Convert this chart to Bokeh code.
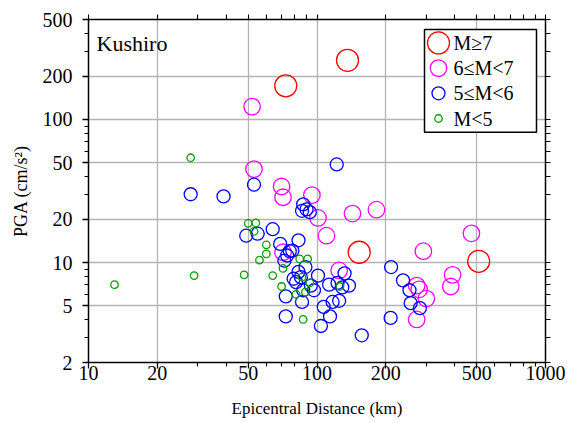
from bokeh.plotting import figure
from bokeh.models import Range1d, LinearScale, LogAxis, FixedTicker
from bokeh.core.properties import value
from bokeh.embed import file_html
from bokeh.resources import INLINE

# ---------------- data ----------------
station = "Kushiro"

m7_dist = [73, 136, 153, 510]
m7_pga = [172, 259, 11.8, 10.2]

m6_dist = [52, 53, 70, 71, 95, 101, 110, 143, 182, 125, 71, 292, 474, 392, 385, 273, 280, 301, 273]
m6_pga = [123, 45, 34, 28.6, 29.6, 20.5, 15.4, 22, 23.4, 8.8, 11.8, 12, 16, 8.2, 6.8, 6.9, 6.5, 5.6, 4.0]

m5_dist = [28, 39, 53, 49, 55, 64, 69, 83, 87, 86, 90, 93, 122, 76, 74, 72, 78, 89, 83, 79, 81,
           85, 87, 97, 101, 94, 73, 86, 73, 104, 107, 113, 123, 132, 138, 129, 125, 117, 114,
           157, 211, 238, 254, 257, 282, 210]
m5_pga = [30, 29, 35, 15.4, 15.9, 17.1, 13.5, 14.3, 25.5, 23, 23.5, 22.5, 48.5, 12.0, 11.2, 10.3,
          12.1, 9.3, 8.6, 7.7, 7.3, 7.9, 6.4, 6.4, 8.1, 6.9, 5.8, 5.3, 4.2, 3.6, 4.9, 7.0, 7.2,
          8.4, 6.9, 6.7, 5.4, 5.3, 4.2, 3.1, 9.3, 7.5, 6.4, 5.2, 4.8, 4.1]

m4_dist = [28, 13, 29, 48, 50, 54, 53, 60, 60, 56, 64, 70, 71, 84, 91, 86, 93, 81, 89, 87, 126]
m4_pga = [54, 7.0, 8.1, 8.2, 18.8, 18.9, 16.5, 13.3, 11.5, 10.4, 8.1, 6.8, 9.1, 10.6, 10.6,
          7.9, 7.2, 6.0, 6.2, 4.0, 6.8]

classes = ["M≥7", "6≤M<7", "5≤M<6", "M<5"]
class_colors = ["#ff0000", "#ff00ff", "#0000ff", "#00a000"]
class_sizes = [22, 16.5, 13, 7.5]
class_data = [(m7_dist, m7_pga), (m6_dist, m6_pga), (m5_dist, m5_pga), (m4_dist, m4_pga)]

x_ticks = [10, 20, 50, 100, 200, 500, 1000]
x_minor = [30, 40, 60, 70, 80, 90, 300, 400, 600, 700, 800, 900]
x_tick_labels = ["10", "20", "50", "100", "200", "500", "1000"]
y_ticks = [2, 5, 10, 20, 50, 100, 200, 500]
y_minor = [3, 4, 6, 7, 8, 9, 30, 40, 60, 70, 80, 90, 300, 400]
y_tick_labels = ["2", "5", "10", "20", "50", "100", "200", "500"]

# ---------------- layout ----------------
W, H = 571, 423
BL, BR, BT, BB = 88, 26, 19, 61
FW, FH = W - BL - BR, H - BT - BB
SERIF = "serif"

p = figure(width=W, height=H, x_axis_type="log", y_axis_type="log",
           x_range=Range1d(10, 1000), y_range=Range1d(2, 500),
           output_backend="svg", toolbar_location=None,
           min_border_left=BL, min_border_right=BR, min_border_top=BT, min_border_bottom=BB)
p.outline_line_color = None
p.background_fill_color = "white"

xt = FixedTicker(ticks=x_ticks, minor_ticks=x_minor)
yt = FixedTicker(ticks=y_ticks, minor_ticks=y_minor)


def style_axis(ax, ticker):
    ax.ticker = ticker
    ax.axis_line_color = "black"
    ax.axis_line_width = 1.5
    ax.major_tick_line_color = "black"
    ax.major_tick_line_width = 1.3
    ax.minor_tick_line_color = "black"
    ax.minor_tick_line_width = 1.1
    ax.major_tick_in = 0
    ax.major_tick_out = 6
    ax.minor_tick_in = 0
    ax.minor_tick_out = 4
    ax.major_label_text_font = SERIF
    ax.major_label_text_font_size = "20px"
    ax.major_label_text_color = "black"
    ax.axis_label_text_font = SERIF
    ax.axis_label_text_font_style = "normal"
    ax.axis_label_text_font_size = "18px"
    ax.axis_label_text_color = "black"


xa = p.xaxis[0]
style_axis(xa, xt)
xa.major_label_overrides = {t: l for t, l in zip(x_ticks, x_tick_labels)}
xa.major_label_standoff = -3
xa.axis_label = "Epicentral Distance (km)"
xa.axis_label_text_font_size = "17px"
xa.axis_label_standoff = 16

ya = p.yaxis[0]
style_axis(ya, yt)
ya.major_label_overrides = {t: l for t, l in zip(y_ticks, y_tick_labels)}
ya.major_label_standoff = 10
ya.axis_label = "PGA (cm/s²)"
ya.axis_label_standoff = 9

# mirrored frame axes (ticks only, no labels)
top = LogAxis(ticker=FixedTicker(ticks=[], minor_ticks=x_ticks + x_minor))
right = LogAxis(ticker=FixedTicker(ticks=[], minor_ticks=y_ticks + y_minor))
for ax in (top, right):
    ax.axis_line_color = "black"
    ax.axis_line_width = 1.5
    ax.minor_tick_line_color = "black"
    ax.minor_tick_line_width = 1.1
    ax.minor_tick_in = 0
    ax.minor_tick_out = 5
    ax.major_tick_in = 0
    ax.major_tick_out = 0
    ax.major_label_standoff = 0
p.add_layout(top, "above")
p.add_layout(right, "right")

for g, t in ((p.xgrid[0], xt), (p.ygrid[0], yt)):
    g.ticker = t
    g.grid_line_color = "#b4b4b4"
    g.grid_line_width = 1.3

# ---------------- data marks ----------------
for (d, a), col, sz in zip(class_data, class_colors, class_sizes):
    p.scatter(d, a, size=sz, marker="circle", fill_color=None,
              line_color=col, line_width=1.3)

# ---------------- pixel-space overlay (title + legend) ----------------
p.extra_x_ranges = {"px": Range1d(0, FW)}
p.extra_y_ranges = {"py": Range1d(0, FH)}
p.extra_x_scales = {"px": LinearScale()}
p.extra_y_scales = {"py": LinearScale()}

p.text(x=[8], y=[FH - 23.5], text=[station], x_range_name="px", y_range_name="py",
       text_font=value(SERIF), text_font_size=value("22px"), text_color="black",
       text_baseline="alphabetic", text_align="left")

LEG_L, LEG_R = FW - 121, FW - 9
LEG_T = FH - 10
PAD_T, ROW_H, PAD_B = 13.4, 25.2, 13.7
n = len(classes)
LEG_B = LEG_T - PAD_T - (n - 1) * ROW_H - PAD_B
p.quad(left=[LEG_L], right=[LEG_R], top=[LEG_T], bottom=[LEG_B],
       x_range_name="px", y_range_name="py",
       fill_color="white", line_color="black", line_width=1.5)
row_y = [LEG_T - PAD_T - i * ROW_H for i in range(n)]
p.scatter([LEG_L + 14] * n, row_y, size=class_sizes, marker="circle",
          fill_color=None, line_color=class_colors, line_width=1.3,
          x_range_name="px", y_range_name="py")
p.text(x=[LEG_L + 29] * n, y=row_y, text=classes, x_range_name="px", y_range_name="py",
       text_font=value(SERIF), text_font_size=value("20px"), text_color="black",
       text_baseline="middle", text_align="left")

open("out.html", "w").write(file_html(p, INLINE))
